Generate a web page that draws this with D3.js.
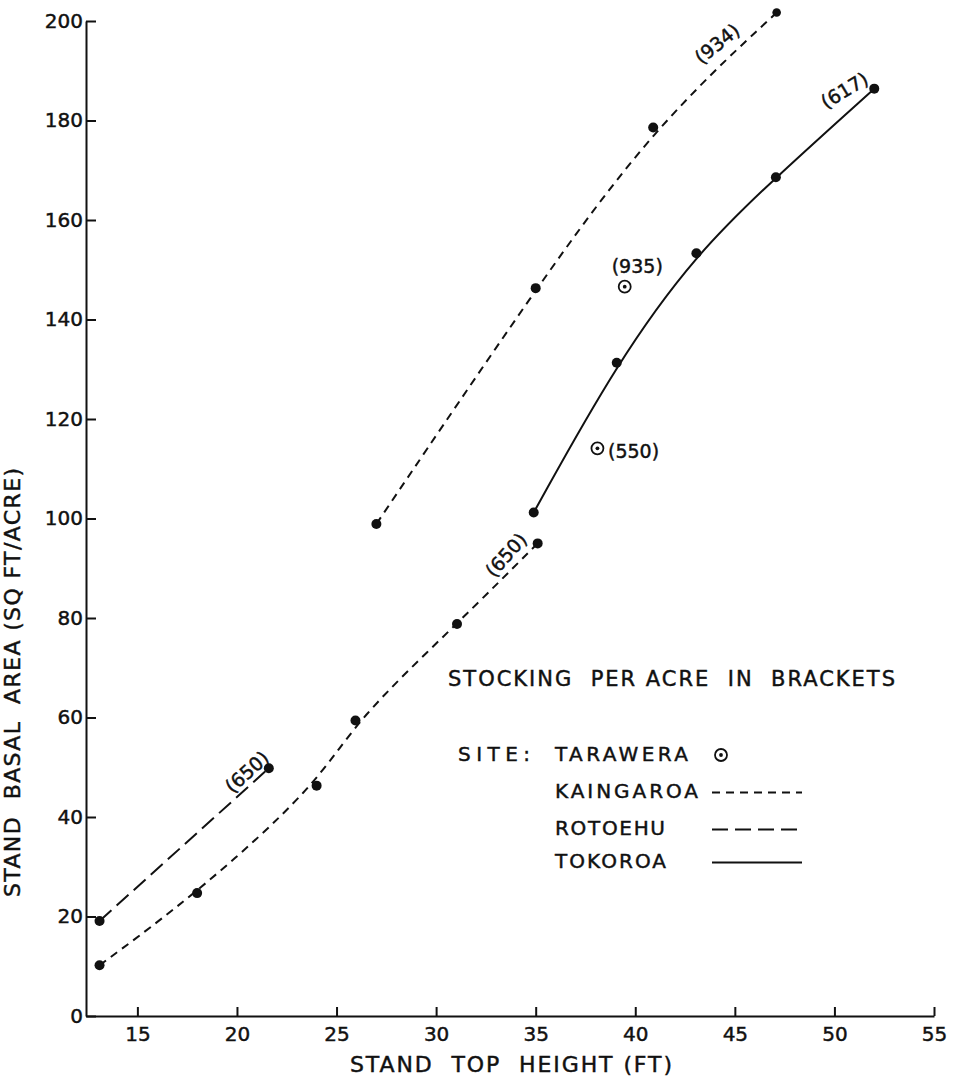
<!DOCTYPE html>
<html>
<head>
<meta charset="utf-8">
<script src="https://cdn.jsdelivr.net/npm/d3@7"></script>
<style>
  body { margin: 0; background: #fff; }
  text { font-family: "DejaVu Sans", sans-serif; fill: #111; stroke: #111; stroke-width: 0.45px; }
</style>
</head>
<body>
<div id="chart"></div>
<script>
// Data
var xTicks = [15, 20, 25, 30, 35, 40, 45, 50, 55];
var yTicks = [0, 20, 40, 60, 80, 100, 120, 140, 160, 180, 200];

var kaingaroaLowX = [13.1, 18.0, 24.0, 25.95, 31.05, 35.1];
var kaingaroaLowY = [10.2, 24.7, 46.3, 59.4, 78.8, 95.0];

var kaingaroaHighX = [27.0, 35.0, 40.9, 47.1];
var kaingaroaHighY = [98.9, 146.3, 178.6, 201.7];

var rotoehuX = [13.1, 21.6];
var rotoehuY = [19.1, 49.8];

var tokoroaX = [34.9, 39.07, 43.07, 47.06, 52.0];
var tokoroaY = [101.2, 131.3, 153.3, 168.6, 186.4];

var taraweraX = [39.47, 38.1];
var taraweraY = [146.6, 114.1];

// stocking labels (data position of label centre)
var stockText = ["(650)", "(650)", "(934)", "(617)"];
var stockX = [20.5, 33.5, 44.1, 50.5];
var stockY = [49.1, 92.7, 195.5, 186.1];
var stockAngle = [-42, -48, -39, -31];

var taraText = ["(935)", "(550)"];
var taraLabX = [40.1, 38.63];
var taraLabY = [149.4, 112.1];

var legendNames = ["KAINGAROA", "ROTOEHU", "TOKOROA"];

function zip(xs, ys) {
    return xs.map((d, i) => ({ x: d, y: ys[i] }));
}

var width = 957, height = 1077;

var svg = d3.select("#chart")
    .append("svg")
    .attr("width", width)
    .attr("height", height);

var x = d3.scaleLinear()
    .domain([12.42, 55])
    .range([86, 934]);

var y = d3.scaleLinear()
    .domain([0, 200])
    .range([1016, 21]);

// X axis
var xAxis = svg.append("g")
    .attr("transform", "translate(0," + y(0) + ")")
    .call(d3.axisBottom(x)
        .tickValues(xTicks)
        .tickSizeInner(-9)
        .tickSizeOuter(0)
        .tickPadding(11));
xAxis.selectAll("text").attr("font-size", 20);

// Y axis
var yAxis = svg.append("g")
    .attr("transform", "translate(" + x.range()[0] + ",0)")
    .call(d3.axisLeft(y)
        .tickValues(yTicks)
        .tickSizeInner(-10)
        .tickSizeOuter(0)
        .tickPadding(3));
yAxis.selectAll("text").attr("font-size", 20);

svg.selectAll(".domain, .tick line")
    .attr("stroke", "#111")
    .attr("stroke-width", 2);

// Axis titles
svg.append("text")
    .attr("x", 350)
    .attr("y", 1072)
    .attr("font-size", 22)
    .attr("textLength", 322)
    .attr("lengthAdjust", "spacing")
    .attr("xml:space", "preserve")
    .text("STAND  TOP  HEIGHT (FT)");

svg.append("text")
    .attr("transform", "translate(20,897) rotate(-90)")
    .attr("font-size", 22)
    .attr("textLength", 429)
    .attr("lengthAdjust", "spacing")
    .attr("xml:space", "preserve")
    .text("STAND  BASAL  AREA (SQ FT/ACRE)");

// Lines: hand-drawn style smooth fits
var fitted = d3.line()
    .x(d => x(d.x))
    .y(d => y(d.y))
    .curve(d3.curveBasis);

var kDash = "8,6", rDash = "16,7";

svg.append("path")
    .datum(zip(kaingaroaLowX, kaingaroaLowY))
    .attr("fill", "none")
    .attr("stroke", "#111")
    .attr("stroke-width", 2)
    .attr("stroke-dasharray", kDash)
    .attr("d", fitted);

svg.append("path")
    .datum(zip(kaingaroaHighX, kaingaroaHighY))
    .attr("fill", "none")
    .attr("stroke", "#111")
    .attr("stroke-width", 2)
    .attr("stroke-dasharray", kDash)
    .attr("d", fitted);

svg.append("path")
    .datum(zip(rotoehuX, rotoehuY))
    .attr("fill", "none")
    .attr("stroke", "#111")
    .attr("stroke-width", 2)
    .attr("stroke-dasharray", rDash)
    .attr("d", fitted);

svg.append("path")
    .datum(zip(tokoroaX, tokoroaY))
    .attr("fill", "none")
    .attr("stroke", "#111")
    .attr("stroke-width", 2)
    .attr("d", fitted);

// Dots
var dots = zip(kaingaroaLowX, kaingaroaLowY)
    .concat(zip(kaingaroaHighX.slice(0, 3), kaingaroaHighY.slice(0, 3)))
    .concat(zip(rotoehuX, rotoehuY))
    .concat(zip(tokoroaX, tokoroaY));

svg.append("g")
    .selectAll("circle")
    .data(dots)
    .join("circle")
    .attr("cx", d => x(d.x))
    .attr("cy", d => y(d.y))
    .attr("r", 5)
    .attr("fill", "#111");

// last Kaingaroa point is drawn a little smaller
svg.append("circle")
    .attr("cx", x(kaingaroaHighX[3]))
    .attr("cy", y(kaingaroaHighY[3]))
    .attr("r", 4.3)
    .attr("fill", "#111");

// Tarawera markers
function taraMarker(g, cx, cy) {
    g.append("circle")
        .attr("cx", cx).attr("cy", cy).attr("r", 6)
        .attr("fill", "none").attr("stroke", "#111").attr("stroke-width", 1.8);
    g.append("circle")
        .attr("cx", cx).attr("cy", cy).attr("r", 1.9)
        .attr("fill", "#111");
}
var tg = svg.append("g");
taraweraX.forEach((d, i) => taraMarker(tg, x(d), y(taraweraY[i])));

svg.append("text")
    .attr("x", x(taraLabX[0]))
    .attr("y", y(taraLabY[0]))
    .attr("text-anchor", "middle")
    .attr("font-size", 19)
    .text(taraText[0]);

svg.append("text")
    .attr("x", x(taraLabX[1]))
    .attr("y", y(taraLabY[1]))
    .attr("font-size", 19)
    .text(taraText[1]);

// Stocking labels along lines
svg.append("g")
    .selectAll("text")
    .data(stockText)
    .join("text")
    .attr("transform", (d, i) => "translate(" + x(stockX[i]) + "," + y(stockY[i]) + ") rotate(" + stockAngle[i] + ")")
    .attr("text-anchor", "middle")
    .attr("dominant-baseline", "central")
    .attr("font-size", 19)
    .text(d => d);

// Legend
svg.append("text")
    .attr("x", 448)
    .attr("y", 686)
    .attr("font-size", 21)
    .attr("textLength", 447)
    .attr("lengthAdjust", "spacing")
    .attr("xml:space", "preserve")
    .text("STOCKING  PER ACRE  IN  BRACKETS");

svg.append("text")
    .attr("x", 458)
    .attr("y", 761)
    .attr("font-size", 20)
    .attr("textLength", 72)
    .attr("lengthAdjust", "spacing")
    .text("SITE:");

svg.append("text")
    .attr("x", 555)
    .attr("y", 761)
    .attr("font-size", 20)
    .attr("textLength", 133)
    .attr("lengthAdjust", "spacing")
    .text("TARAWERA");

taraMarker(svg, 721, 755);

var legendY = [798, 835, 868];
var legendLen = [143, 110, 111];
var legendDash = [kDash, rDash, null];

svg.append("g")
    .selectAll("text")
    .data(legendNames)
    .join("text")
    .attr("x", 555)
    .attr("y", (d, i) => legendY[i])
    .attr("font-size", 20)
    .attr("textLength", (d, i) => legendLen[i])
    .attr("lengthAdjust", "spacing")
    .text(d => d);

svg.append("g")
    .selectAll("line")
    .data(legendNames)
    .join("line")
    .attr("x1", 712)
    .attr("x2", 802)
    .attr("y1", (d, i) => legendY[i] - 5.5)
    .attr("y2", (d, i) => legendY[i] - 5.5)
    .attr("stroke", "#111")
    .attr("stroke-width", 2)
    .attr("stroke-dasharray", (d, i) => legendDash[i]);
</script>
</body>
</html>
